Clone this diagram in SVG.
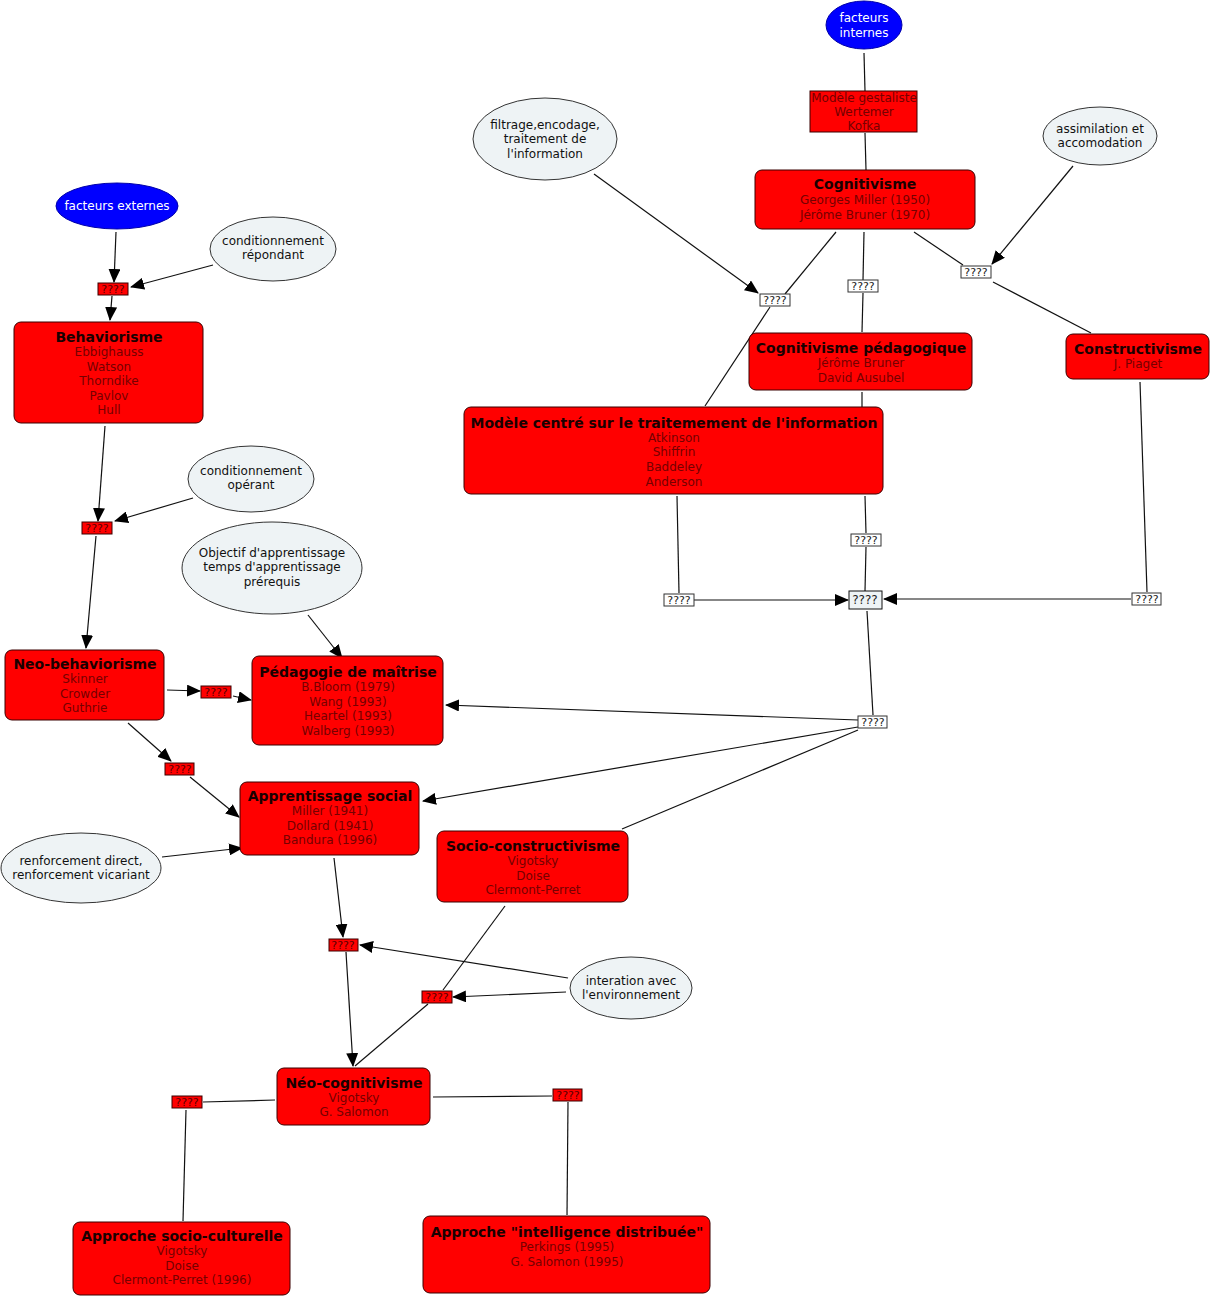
<svg xmlns="http://www.w3.org/2000/svg" width="1212" height="1298" viewBox="0 0 1212 1298">
<style>
text{font-family:"DejaVu Sans",Verdana,sans-serif;text-anchor:middle;dominant-baseline:central}
.n{fill:#ff0000;stroke:#3a0000;stroke-width:1}
.t{font-size:14px;font-weight:bold;fill:#1a0000}
.b{font-size:12px;fill:#750000}
.e{fill:#eef3f5;stroke:#333;stroke-width:1}
.et{font-size:12px;fill:#111}
.blue{fill:#0000ff;stroke:#0000aa}
.bt{font-size:12px;fill:#ffffff}
.lr{fill:#ff0000;stroke:#3a0000;stroke-width:1}
.lrt{font-size:11px;fill:#5a0000}
.lw{fill:#ffffff;stroke:#333;stroke-width:1}
.lwt{font-size:11px;fill:#222}
.c line{stroke:#111;stroke-width:1.2;fill:none}
.a{marker-end:url(#ah)}
</style>
<defs>
<marker id="ah" markerUnits="userSpaceOnUse" markerWidth="14" markerHeight="12" viewBox="0 0 14 12" refX="13" refY="6" orient="auto">
<path d="M0,0 L14,6 L0,12 Z" fill="#000"/>
</marker>
</defs>
<rect width="1212" height="1298" fill="#ffffff"/>

<g class="c" id="connectors">
<line x1="864" y1="53" x2="865" y2="91"/>
<line x1="865" y1="133" x2="866" y2="170"/>
<line class="a" x1="594" y1="174" x2="758" y2="293"/>
<line x1="836" y1="232" x2="785" y2="294"/>
<line x1="770" y1="307" x2="705" y2="406"/>
<line x1="864" y1="232" x2="863" y2="280"/>
<line x1="863" y1="293" x2="862" y2="332"/>
<line x1="914" y1="232" x2="963" y2="265"/>
<line x1="993" y1="282" x2="1091" y2="333"/>
<line class="a" x1="1073" y1="166" x2="992" y2="264"/>
<line x1="862" y1="392" x2="862" y2="407"/>
<line x1="677" y1="496" x2="679" y2="593"/>
<line x1="865" y1="496" x2="866" y2="533"/>
<line x1="866" y1="547" x2="865" y2="591"/>
<line class="a" x1="694" y1="600" x2="848" y2="600"/>
<line x1="1140" y1="382" x2="1147" y2="592"/>
<line class="a" x1="1131" y1="599" x2="884" y2="599"/>
<line x1="867" y1="611" x2="873" y2="715"/>
<line class="a" x1="858" y1="720" x2="446" y2="705"/>
<line class="a" x1="858" y1="727" x2="423" y2="801"/>
<line x1="858" y1="730" x2="622" y2="829"/>
<line class="a" x1="116" y1="232" x2="114" y2="282"/>
<line class="a" x1="213" y1="265" x2="131" y2="287"/>
<line class="a" x1="112" y1="296" x2="110" y2="320"/>
<line class="a" x1="105" y1="426" x2="98" y2="521"/>
<line class="a" x1="193" y1="498" x2="115" y2="521"/>
<line class="a" x1="96" y1="536" x2="86" y2="648"/>
<line class="a" x1="308" y1="615" x2="342" y2="658"/>
<line class="a" x1="167" y1="690" x2="200" y2="691"/>
<line class="a" x1="233" y1="696" x2="251" y2="700"/>
<line class="a" x1="128" y1="723" x2="171" y2="761"/>
<line class="a" x1="190" y1="777" x2="239" y2="817"/>
<line class="a" x1="162" y1="857" x2="242" y2="848"/>
<line class="a" x1="334" y1="858" x2="343" y2="937"/>
<line class="a" x1="568" y1="978" x2="360" y2="945"/>
<line class="a" x1="566" y1="992" x2="453" y2="997"/>
<line x1="505" y1="906" x2="443" y2="990"/>
<line x1="428" y1="1004" x2="355" y2="1066"/>
<line class="a" x1="346" y1="952" x2="353" y2="1066"/>
<line x1="275" y1="1100" x2="203" y2="1102"/>
<line x1="186" y1="1110" x2="183" y2="1221"/>
<line x1="433" y1="1097" x2="552" y2="1096"/>
<line x1="568" y1="1102" x2="567" y2="1215"/>
</g>

<g id="facteurs-internes"><ellipse class="blue" cx="864" cy="25" rx="38" ry="24"/><text class="bt" x="864" y="18">facteurs</text><text class="bt" x="864" y="33">internes</text></g>
<g id="modele-gestaliste"><rect class="n" x="810" y="91" width="107" height="41"/><text class="b" x="864" y="98">Modèle gestaliste</text><text class="b" x="864" y="112">Wertemer</text><text class="b" x="864" y="126">Kofka</text></g>
<g id="cognitivisme"><rect class="n" x="755" y="170" width="220" height="59" rx="7"/><text class="t" x="865" y="184">Cognitivisme</text><text class="b" x="865" y="200">Georges Miller (1950)</text><text class="b" x="865" y="215">Jérôme Bruner (1970)</text></g>
<g id="filtrage"><ellipse class="e" cx="545" cy="139" rx="72" ry="41"/><text class="et" x="545" y="125">filtrage,encodage,</text><text class="et" x="545" y="139">traitement de</text><text class="et" x="545" y="154">l'information</text></g>
<g id="assimilation"><ellipse class="e" cx="1100" cy="136" rx="57" ry="29"/><text class="et" x="1100" y="129">assimilation et</text><text class="et" x="1100" y="143">accomodation</text></g>
<g id="facteurs-externes"><ellipse class="blue" cx="117" cy="206" rx="61" ry="23"/><text class="bt" x="117" y="206">facteurs externes</text></g>
<g id="cond-repondant"><ellipse class="e" cx="273" cy="249" rx="63" ry="32"/><text class="et" x="273" y="241">conditionnement</text><text class="et" x="273" y="255">répondant</text></g>
<g id="l1"><rect class="lr" x="98" y="283" width="30" height="12"/><text class="lrt" x="113" y="289">????</text></g>
<g id="behaviorisme"><rect class="n" x="14" y="322" width="189" height="101" rx="7"/><text class="t" x="109" y="337">Behaviorisme</text><text class="b" x="109" y="352">Ebbighauss</text><text class="b" x="109" y="367">Watson</text><text class="b" x="109" y="381">Thorndike</text><text class="b" x="109" y="396">Pavlov</text><text class="b" x="109" y="410">Hull</text></g>
<g id="cond-operant"><ellipse class="e" cx="251" cy="479" rx="63" ry="33"/><text class="et" x="251" y="471">conditionnement</text><text class="et" x="251" y="485">opérant</text></g>
<g id="l2"><rect class="lr" x="82" y="522" width="30" height="12"/><text class="lrt" x="97" y="528">????</text></g>
<g id="objectif"><ellipse class="e" cx="272" cy="568" rx="90" ry="46"/><text class="et" x="272" y="553">Objectif d'apprentissage</text><text class="et" x="272" y="567">temps d'apprentissage</text><text class="et" x="272" y="582">prérequis</text></g>
<g id="neo-behaviorisme"><rect class="n" x="5" y="650" width="159" height="70" rx="7"/><text class="t" x="85" y="664">Neo-behaviorisme</text><text class="b" x="85" y="679">Skinner</text><text class="b" x="85" y="694">Crowder</text><text class="b" x="85" y="708">Guthrie</text></g>
<g id="l3"><rect class="lr" x="201" y="686" width="30" height="12"/><text class="lrt" x="216" y="692">????</text></g>
<g id="pedagogie"><rect class="n" x="252" y="656" width="191" height="89" rx="7"/><text class="t" x="348" y="672">Pédagogie de maîtrise</text><text class="b" x="348" y="687">B.Bloom (1979)</text><text class="b" x="348" y="702">Wang (1993)</text><text class="b" x="348" y="716">Heartel (1993)</text><text class="b" x="348" y="731">Walberg (1993)</text></g>
<g id="l4"><rect class="lr" x="165" y="763" width="29" height="12"/><text class="lrt" x="180" y="769">????</text></g>
<g id="apprentissage-social"><rect class="n" x="240" y="782" width="179" height="73" rx="7"/><text class="t" x="330" y="796">Apprentissage social</text><text class="b" x="330" y="811">Miller (1941)</text><text class="b" x="330" y="826">Dollard (1941)</text><text class="b" x="330" y="840">Bandura (1996)</text></g>
<g id="renforcement"><ellipse class="e" cx="81" cy="868" rx="80" ry="35"/><text class="et" x="81" y="861">renforcement direct,</text><text class="et" x="81" y="875">renforcement vicariant</text></g>
<g id="socio-constructivisme"><rect class="n" x="437" y="831" width="191" height="71" rx="7"/><text class="t" x="533" y="846">Socio-constructivisme</text><text class="b" x="533" y="861">Vigotsky</text><text class="b" x="533" y="876">Doise</text><text class="b" x="533" y="890">Clermont-Perret</text></g>
<g id="l5"><rect class="lr" x="329" y="939" width="29" height="12"/><text class="lrt" x="343" y="945">????</text></g>
<g id="interation"><ellipse class="e" cx="631" cy="988" rx="61" ry="31"/><text class="et" x="631" y="981">interation avec</text><text class="et" x="631" y="995">l'environnement</text></g>
<g id="l6"><rect class="lr" x="422" y="991" width="30" height="12"/><text class="lrt" x="437" y="997">????</text></g>
<g id="neo-cognitivisme"><rect class="n" x="277" y="1068" width="153" height="57" rx="7"/><text class="t" x="354" y="1083">Néo-cognitivisme</text><text class="b" x="354" y="1098">Vigotsky</text><text class="b" x="354" y="1112">G. Salomon</text></g>
<g id="l7"><rect class="lr" x="172" y="1096" width="30" height="12"/><text class="lrt" x="187" y="1102">????</text></g>
<g id="l8"><rect class="lr" x="553" y="1089" width="29" height="12"/><text class="lrt" x="568" y="1095">????</text></g>
<g id="socio-culturelle"><rect class="n" x="73" y="1222" width="217" height="73" rx="7"/><text class="t" x="182" y="1236">Approche socio-culturelle</text><text class="b" x="182" y="1251">Vigotsky</text><text class="b" x="182" y="1266">Doise</text><text class="b" x="182" y="1280">Clermont-Perret (1996)</text></g>
<g id="intelligence-distribuee"><rect class="n" x="423" y="1216" width="287" height="77" rx="7"/><text class="t" x="567" y="1232">Approche "intelligence distribuée"</text><text class="b" x="567" y="1247">Perkings (1995)</text><text class="b" x="567" y="1262">G. Salomon (1995)</text></g>

<g id="cognitivisme-pedagogique"><rect class="n" x="749" y="333" width="223" height="57" rx="7"/><text class="t" x="861" y="348">Cognitivisme pédagogique</text><text class="b" x="861" y="363">Jérôme Bruner</text><text class="b" x="861" y="378">David Ausubel</text></g>
<g id="constructivisme"><rect class="n" x="1066" y="334" width="143" height="45" rx="7"/><text class="t" x="1138" y="349">Constructivisme</text><text class="b" x="1138" y="364">J. Piaget</text></g>
<g id="modele-centre"><rect class="n" x="464" y="407" width="419" height="87" rx="7"/><text class="t" x="674" y="423">Modèle centré sur le traitemement de l'information</text><text class="b" x="674" y="438">Atkinson</text><text class="b" x="674" y="452">Shiffrin</text><text class="b" x="674" y="467">Baddeley</text><text class="b" x="674" y="482">Anderson</text></g>
<g id="w1"><rect class="lw" x="760" y="294" width="30" height="12"/><text class="lwt" x="775" y="300">????</text></g>
<g id="w2"><rect class="lw" x="848" y="280" width="30" height="12"/><text class="lwt" x="863" y="286">????</text></g>
<g id="w3"><rect class="lw" x="961" y="266" width="30" height="12"/><text class="lwt" x="976" y="272">????</text></g>
<g id="w4"><rect class="lw" x="851" y="534" width="30" height="12"/><text class="lwt" x="866" y="540">????</text></g>
<g id="w5"><rect class="lw" x="664" y="594" width="30" height="12"/><text class="lwt" x="679" y="600">????</text></g>
<g id="w6"><rect class="e" x="849" y="591" width="33" height="18" style="stroke:#111"/><text class="lwt" x="865" y="600" style="font-size:12px">????</text></g>
<g id="w7"><rect class="lw" x="1132" y="593" width="29" height="12"/><text class="lwt" x="1147" y="599">????</text></g>
<g id="w8"><rect class="lw" x="858" y="716" width="29" height="12"/><text class="lwt" x="873" y="722">????</text></g>
</svg>
